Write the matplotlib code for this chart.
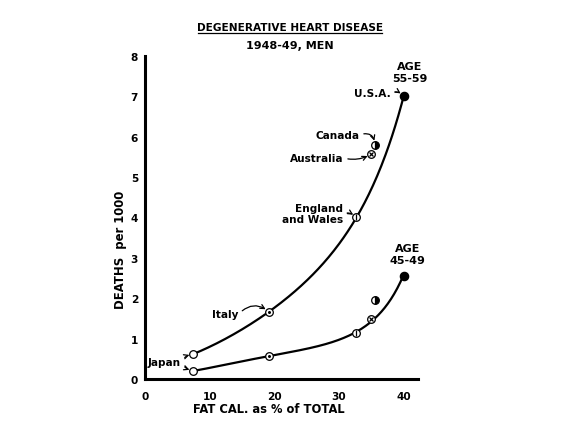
import numpy as np
import matplotlib
matplotlib.use("Agg")
import matplotlib.pyplot as plt

# data (fat calories as % of total, deaths per 1000)
countries = ["Japan", "Italy", "England and Wales", "Australia", "Canada", "U.S.A."]
fat_pct = [7.5, 19.2, 32.7, 35.0, 35.6, 40.0]
deaths_55_59 = [0.62, 1.67, 4.0, 5.57, 5.8, 7.0]
deaths_45_49 = [0.2, 0.57, 1.13, 1.48, 1.95, 2.56]

# which points the hand-drawn curve passes through
on_curve_55 = [0, 1, 2, 5]
on_curve_45 = [0, 1, 2, 3, 5]

x_ticks = [0, 10, 20, 30, 40]
y_ticks = [0, 1, 2, 3, 4, 5, 6, 7, 8]

FS = 7.6
plt.rcParams["font.family"] = "DejaVu Sans"
plt.rcParams["font.weight"] = "bold"

fig = plt.figure(figsize=(5.65, 4.39), dpi=100)
ax = fig.add_axes([0.2566, 0.1344, 0.483, 0.7358])
ax.set_xlim(0, 42.2)
ax.set_ylim(0, 8)
for s in ["top", "right"]:
    ax.spines[s].set_visible(False)
for s in ["left", "bottom"]:
    ax.spines[s].set_linewidth(2.2)
ax.set_xticks(x_ticks)
ax.set_yticks(y_ticks)
ax.tick_params(length=0, labelsize=FS)
ax.tick_params(axis="x", pad=9)
ax.tick_params(axis="y", pad=5)


def draw_curve(idx, ys, deg):
    # smooth trend through the on-curve points, fitted in log space
    xs = np.array([fat_pct[i] for i in idx])
    yv = np.log([ys[i] for i in idx])
    coef = np.polyfit(xs, yv, deg)
    xx = np.linspace(xs.min(), xs.max(), 200)
    ax.plot(xx, np.exp(np.polyval(coef, xx)), color="black", lw=1.6, zorder=2)


draw_curve(on_curve_55, deaths_55_59, 3)
draw_curve(on_curve_45, deaths_45_49, 3)


def draw_markers(ys):
    ms = 5.5
    kw = dict(color="black", markeredgecolor="black", markeredgewidth=0.9,
              linestyle="none", zorder=3)
    # Japan: open circle
    ax.plot(fat_pct[0], ys[0], "o", markerfacecolor="white", markersize=ms, **kw)
    # Italy: circle with a dot
    ax.plot(fat_pct[1], ys[1], "o", markerfacecolor="white", markersize=ms, **kw)
    ax.plot(fat_pct[1], ys[1], ".", markersize=2.5, **kw)
    # England and Wales: circle with a vertical bar
    ax.plot(fat_pct[2], ys[2], "o", markerfacecolor="white", markersize=ms, **kw)
    ax.plot(fat_pct[2], ys[2], "|", markersize=ms - 1, **kw)
    # Australia: crossed circle
    ax.plot(fat_pct[3], ys[3], "o", markerfacecolor="white", markersize=ms, **kw)
    ax.plot(fat_pct[3], ys[3], "x", markersize=ms - 2, **kw)
    # Canada: half filled
    ax.plot(fat_pct[4], ys[4], "o", fillstyle="right", markerfacecolor="black",
            markerfacecoloralt="white", markersize=ms, **kw)
    # U.S.A.: filled
    ax.plot(fat_pct[5], ys[5], "o", markerfacecolor="black", markersize=ms + 0.5, **kw)


draw_markers(deaths_55_59)
draw_markers(deaths_45_49)


def arrow(rad):
    return dict(arrowstyle="->", color="black", lw=0.9, shrinkA=1, shrinkB=3,
                relpos=(1, 0.5), connectionstyle=f"arc3,rad={rad}")


ax.annotate("Japan", xy=(fat_pct[0], deaths_55_59[0]), xytext=(3.0, 0.42),
            fontsize=FS, ha="center", va="center", arrowprops=arrow(-0.25))
ax.annotate("Japan", xy=(fat_pct[0], deaths_45_49[0]), xytext=(3.0, 0.42),
            fontsize=FS, ha="center", va="center", color="none",
            arrowprops=arrow(0.25))
ax.annotate("Italy", xy=(fat_pct[1], deaths_55_59[1]), xytext=(12.4, 1.6),
            fontsize=FS, ha="center", va="center", arrowprops=arrow(-0.45))
ax.annotate("England\nand Wales", xy=(fat_pct[2], deaths_55_59[2]), xytext=(25.9, 4.1),
            fontsize=FS, ha="center", va="center", multialignment="right",
            linespacing=1.1, arrowprops=arrow(-0.3))
ax.annotate("Australia", xy=(fat_pct[3], deaths_55_59[3]), xytext=(26.6, 5.47),
            fontsize=FS, ha="center", va="center", arrowprops=arrow(0.2))
ax.annotate("Canada", xy=(fat_pct[4], deaths_55_59[4]), xytext=(29.8, 6.05),
            fontsize=FS, ha="center", va="center", arrowprops=arrow(-0.6))
ax.annotate("U.S.A.", xy=(fat_pct[5], deaths_55_59[5]), xytext=(35.2, 7.08),
            fontsize=FS, ha="center", va="center", arrowprops=arrow(-0.4))

ax.text(41.0, 7.6, "AGE\n55-59", fontsize=8, ha="center", va="center", linespacing=1.3)
ax.text(40.6, 3.1, "AGE\n45-49", fontsize=8, ha="center", va="center", linespacing=1.3)

fig.text(0.513, 0.936, "DEGENERATIVE HEART DISEASE", fontsize=FS, ha="center", va="center")
fig.add_artist(plt.Line2D([0.351, 0.676], [0.922, 0.922], color="black", lw=0.9))
fig.text(0.513, 0.895, "1948-49, MEN", fontsize=8, ha="center", va="center")
fig.text(0.214, 0.43, "DEATHS  per 1000", fontsize=8.4, rotation=90, ha="center", va="center")
fig.text(0.476, 0.068, "FAT CAL. as % of TOTAL", fontsize=8.3, ha="center", va="center")

fig.savefig("out.png", dpi=100, facecolor="white")
